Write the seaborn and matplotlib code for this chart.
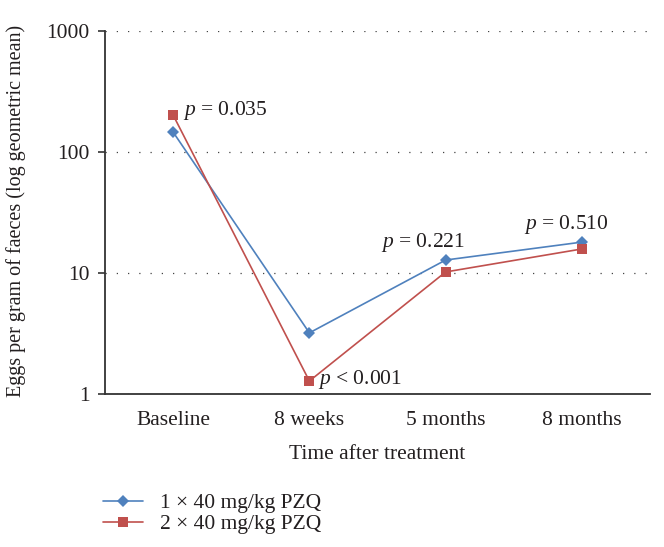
import matplotlib
matplotlib.use("Agg")
import matplotlib.pyplot as plt
import seaborn as sns
import pandas as pd

# data
time_points = ["Baseline", "8 weeks", "5 months", "8 months"]
epg_single = [146, 3.2, 12.8, 18.0]
epg_double = [202, 1.28, 10.2, 15.8]
group_names = ["1 \u00d7 40 mg/kg PZQ", "2 \u00d7 40 mg/kg PZQ"]
p_labels = ["= 0.035", "< 0.001", "= 0.221", "= 0.510"]

sns.set_style("white")
plt.rcParams["font.family"] = ["Liberation Serif", "DejaVu Serif"]
plt.rcParams["mathtext.fontset"] = "custom"
plt.rcParams["mathtext.it"] = "Liberation Serif:italic"
plt.rcParams["mathtext.rm"] = "Liberation Serif"
plt.rcParams["text.color"] = "#231F20"
plt.rcParams["axes.labelcolor"] = "#231F20"
plt.rcParams["xtick.color"] = "#231F20"
plt.rcParams["ytick.color"] = "#231F20"

df = pd.DataFrame({
    "time": time_points * 2,
    "epg": epg_single + epg_double,
    "group": [group_names[0]] * 4 + [group_names[1]] * 4,
})

blue = "#4F81BD"
red = "#C0504D"
fs = 15.5

fig = plt.figure(figsize=(6.64, 5.47), dpi=100)
ax = fig.add_axes([105 / 664, 1 - 394 / 547, 545 / 664, 363 / 547])

sns.lineplot(data=df, x="time", y="epg", hue="group", style="group",
             palette=[blue, red], markers=["D", "s"], dashes=False,
             linewidth=1.2, markeredgewidth=0, ax=ax, legend=False)
for ln, ms in zip(ax.lines, [6, 7]):
    ln.set_markersize(ms)

ax.set_yscale("log")
ax.set_ylim(1, 1000)
ax.set_xlim(-0.5, 3.5)
ax.set_yticks([1, 10, 100, 1000])
ax.set_yticklabels(["1", "10", "100", "1000"])
ax.minorticks_off()
ax.yaxis.grid(True, linestyle=(0, (1, 8)), color="#444444", linewidth=0.9)
ax.xaxis.grid(False)
for s in ["top", "right"]:
    ax.spines[s].set_visible(False)
for s in ["left", "bottom"]:
    ax.spines[s].set_color("#333333")
    ax.spines[s].set_linewidth(1.3)
ax.tick_params(axis="y", length=5, width=1.2, color="#333333", left=True, labelsize=fs, pad=6)
ax.tick_params(axis="x", length=0, labelsize=fs, pad=12)

ax.set_xlabel("Time after treatment", fontsize=fs, labelpad=11)
ax.set_ylabel("Eggs per gram of faeces (log geometric mean)", fontsize=14.5)
ax.yaxis.set_label_coords(-0.145, 0.505)

# p-value annotations
ax.annotate(r"$p$ " + p_labels[0], xy=(0, epg_double[0]), xytext=(7, 3.5),
            textcoords="offset points", ha="left", va="center", fontsize=fs)
ax.annotate(r"$p$ " + p_labels[1], xy=(1, epg_double[1]), xytext=(6, 1),
            textcoords="offset points", ha="left", va="center", fontsize=fs)
ax.annotate(r"$p$ " + p_labels[2], xy=(2, epg_single[2]), xytext=(-16, 12.5),
            textcoords="offset points", ha="center", va="center", fontsize=fs)
ax.annotate(r"$p$ " + p_labels[3], xy=(3, epg_single[3]), xytext=(-11, 12.5),
            textcoords="offset points", ha="center", va="center", fontsize=fs)

ax.legend(ax.lines[:2], group_names, loc="upper left",
          bbox_to_anchor=(103 / 664, 1 - 493 / 547), bbox_transform=fig.transFigure,
          frameon=False, fontsize=fs, handlelength=1.85, handletextpad=0.8,
          labelspacing=0.05, borderaxespad=0, borderpad=0)

fig.savefig("out.png", dpi=100)
